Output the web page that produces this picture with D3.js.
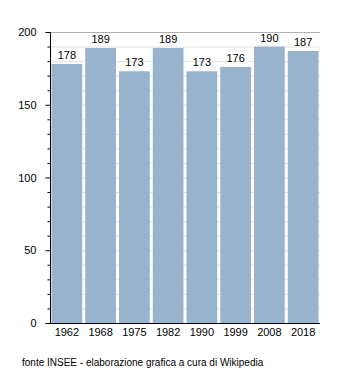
<!DOCTYPE html>
<html>
<head>
<meta charset="utf-8">
<script src="https://cdn.jsdelivr.net/npm/d3@7"></script>
<style>
  body { margin: 0; background: #fff; }
  svg text { font-family: "Liberation Sans", Arial, sans-serif; fill: #000; }
</style>
</head>
<body>
<svg id="chart" width="350" height="373"></svg>
<script>
// Popolazione per anno di censimento
const years = ["1962", "1968", "1975", "1982", "1990", "1999", "2008", "2018"];
const population = [178, 189, 173, 189, 173, 176, 190, 187];
const yTicks = [0, 50, 100, 150, 200];
const source = "fonte INSEE - elaborazione grafica a cura di Wikipedia";

const svg = d3.select("#chart");
const plotLeft = 50, plotRight = 320, plotTop = 32, plotBottom = 323;

const x = d3.scaleBand().domain(years).range([plotLeft, plotRight]).paddingInner(0.09).paddingOuter(0.045);
const y = d3.scaleLinear().domain([0, 200]).range([plotBottom, plotTop]);

// griglia leggera ogni 10 unità
svg.append("g").selectAll("line")
  .data(d3.range(10, 200, 10))
  .join("line")
  .attr("x1", plotLeft).attr("x2", plotRight)
  .attr("y1", d => y(d) + 0.5).attr("y2", d => y(d) + 0.5)
  .attr("stroke", "#e2e2e2").attr("stroke-width", 1);

// linea superiore a 200
svg.append("line")
  .attr("x1", plotLeft).attr("x2", plotRight)
  .attr("y1", y(200) + 0.5).attr("y2", y(200) + 0.5)
  .attr("stroke", "#b0b0b0");

// barre
svg.append("g").selectAll("rect")
  .data(population)
  .join("rect")
  .attr("x", (d, i) => x(years[i]))
  .attr("width", x.bandwidth())
  .attr("y", d => y(d))
  .attr("height", d => y(0) - y(d))
  .attr("fill", "#98b3cc");

// etichette dei valori
svg.append("g").selectAll("text")
  .data(population)
  .join("text")
  .attr("x", (d, i) => x(years[i]) + x.bandwidth() / 2)
  .attr("y", d => y(d) - 5)
  .attr("text-anchor", "middle")
  .attr("font-size", 11)
  .text(d => d);

// asse y
const yAxis = svg.append("g").attr("transform", `translate(${plotLeft + 0.5},0)`);
yAxis.append("line").attr("x1", 0).attr("x2", 0).attr("y1", plotTop).attr("y2", plotBottom + 0.5).attr("stroke", "#000");
yAxis.selectAll("line.minor")
  .data(d3.range(0, 201, 10).filter(v => v % 50 !== 0))
  .join("line").attr("class", "minor")
  .attr("x1", -3).attr("x2", 0)
  .attr("y1", d => y(d) + 0.5).attr("y2", d => y(d) + 0.5)
  .attr("stroke", "#000");
yAxis.selectAll("line.major")
  .data(yTicks)
  .join("line").attr("class", "major")
  .attr("x1", -5).attr("x2", 0)
  .attr("y1", d => y(d) + 0.5).attr("y2", d => y(d) + 0.5)
  .attr("stroke", "#000");
yAxis.selectAll("text")
  .data(yTicks)
  .join("text")
  .attr("x", -14)
  .attr("y", d => y(d) + 4)
  .attr("text-anchor", "end")
  .attr("font-size", 11)
  .text(d => d);

// asse x
svg.append("line")
  .attr("x1", plotLeft).attr("x2", plotRight)
  .attr("y1", plotBottom + 0.5).attr("y2", plotBottom + 0.5)
  .attr("stroke", "#000");
svg.append("g").selectAll("text")
  .data(years)
  .join("text")
  .attr("x", d => x(d) + x.bandwidth() / 2)
  .attr("y", plotBottom + 13)
  .attr("text-anchor", "middle")
  .attr("font-size", 11)
  .text(d => d);

// fonte
svg.append("text")
  .attr("x", 22).attr("y", 366)
  .attr("font-size", 10)
  .text(source);
</script>
</body>
</html>
